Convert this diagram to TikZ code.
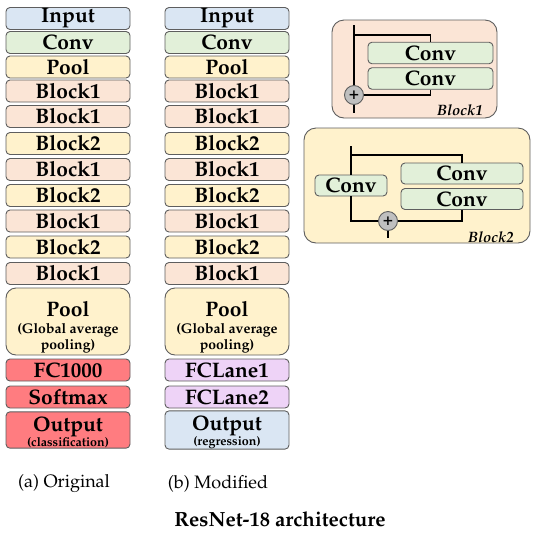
\documentclass[tikz,border=0pt]{standalone}
\usepackage[T1]{fontenc}
\usepackage{mathpazo}
\definecolor{inblue}{HTML}{DAE6F3}
\definecolor{convgreen}{HTML}{E2F0D9}
\definecolor{poolyellow}{HTML}{FFF2CC}
\definecolor{blockpeach}{HTML}{FBE5D6}
\definecolor{fcred}{HTML}{FF7C80}
\definecolor{lanepurple}{HTML}{EED3F7}
\definecolor{edgegray}{HTML}{5E5E5E}
\definecolor{plusgray}{HTML}{BFBFBF}
\newcommand{\subtxt}{\fontsize{14}{15}\selectfont\bfseries}
\newcommand{\tinytxt}{\fontsize{12.5}{12}\selectfont\bfseries}
\begin{document}
\begin{tikzpicture}[
  x=1pt, y=-1pt,
  layer/.style={draw=edgegray, line width=0.9pt, rounded corners=4pt, minimum width=124pt, minimum height=22pt, inner sep=0pt, font=\fontsize{21}{20}\selectfont\bfseries},
  tall/.style={layer, align=center, font=\fontsize{21}{18}\selectfont\bfseries},
  panel/.style={draw=edgegray, line width=0.9pt, rounded corners=12pt},
  wire/.style={black, line width=1.8pt},
  plus/.style={circle, draw=edgegray, fill=plusgray, line width=0.9pt, minimum size=19pt, inner sep=0pt, font=\fontsize{17}{17}\selectfont\bfseries},
  tag/.style={font=\fontsize{15}{15}\selectfont\bfseries\itshape}
]
  \useasboundingbox (0,0) rectangle (538,550);

  % (a) Original
  \node[layer, fill=inblue] (inA) at (68,18.5) {Input};
  \node[layer, fill=convgreen] (convA) at (68,42.5) {Conv};
  \node[layer, fill=poolyellow] (poolA) at (68,67) {Pool};
  \node[layer, fill=blockpeach] (bA1) at (68,91) {Block1};
  \node[layer, fill=blockpeach] (bA2) at (68,116.5) {Block1};
  \node[layer, fill=poolyellow] (bA3) at (68,143.5) {Block2};
  \node[layer, fill=blockpeach] (bA4) at (68,169.5) {Block1};
  \node[layer, fill=poolyellow] (bA5) at (68,195.5) {Block2};
  \node[layer, fill=blockpeach] (bA6) at (68,221) {Block1};
  \node[layer, fill=poolyellow] (bA7) at (68,247) {Block2};
  \node[layer, fill=blockpeach] (bA8) at (68,273.5) {Block1};
  \node[tall, fill=poolyellow, minimum height=67pt, rounded corners=10pt] (gapA) at (68,321.5) {\rule{0pt}{26pt}Pool\\[-1pt]{\subtxt (Global average}\\[-2pt]{\subtxt pooling)}};
  \node[layer, fill=fcred] (fcA) at (68,370) {FC1000};
  \node[layer, fill=fcred] (smA) at (68,397) {Softmax};
  \node[tall, fill=fcred, minimum height=36pt] (outA) at (68,430) {\rule{0pt}{20pt}Output\\[-3pt]{\tinytxt (classification)}};

  % (b) Modified
  \node[layer, fill=inblue] (inB) at (227,18.5) {Input};
  \node[layer, fill=convgreen] (convB) at (227,42.5) {Conv};
  \node[layer, fill=poolyellow] (poolB) at (227,67) {Pool};
  \node[layer, fill=blockpeach] (bB1) at (227,91) {Block1};
  \node[layer, fill=blockpeach] (bB2) at (227,116.5) {Block1};
  \node[layer, fill=poolyellow] (bB3) at (227,143.5) {Block2};
  \node[layer, fill=blockpeach] (bB4) at (227,169.5) {Block1};
  \node[layer, fill=poolyellow] (bB5) at (227,195.5) {Block2};
  \node[layer, fill=blockpeach] (bB6) at (227,221) {Block1};
  \node[layer, fill=poolyellow] (bB7) at (227,247) {Block2};
  \node[layer, fill=blockpeach] (bB8) at (227,273.5) {Block1};
  \node[tall, fill=poolyellow, minimum height=67pt, rounded corners=10pt] (gapB) at (227,321.5) {\rule{0pt}{26pt}Pool\\[-1pt]{\subtxt (Global average}\\[-2pt]{\subtxt pooling)}};
  \node[layer, fill=lanepurple] (fcB1) at (227,370) {FCLane1};
  \node[layer, fill=lanepurple] (fcB2) at (227,397) {FCLane2};
  \node[tall, fill=inblue, minimum height=36pt] (outB) at (227,430) {\rule{0pt}{20pt}Output\\[-3pt]{\tinytxt (regression)}};

  % Captions
  \node[font=\fontsize{18}{18}\selectfont] (capA) at (64,484) {(a) Original};
  \node[font=\fontsize{18}{18}\selectfont] (capB) at (218,484) {(b) Modified};
  \node[font=\fontsize{20.5}{20}\selectfont\bfseries] (title) at (280,519) {ResNet-18 architecture};

  % Block1 detail
  \draw[panel, fill=blockpeach] (332,20) rectangle (497,118);
  \node[layer, fill=convgreen, minimum width=125pt, minimum height=21.5pt] (c1a) at (430.5,53) {Conv};
  \node[layer, fill=convgreen, minimum width=125pt, minimum height=21.5pt] (c1b) at (430.5,78.5) {Conv};
  \node[plus] (p1) at (354,95) {+};
  \coordinate (top1) at (354,25);
  \coordinate (end1) at (354,113);
  \draw[wire] (top1) -- (p1);
  \draw[wire] (354,35) -| (c1a.north);
  \draw[wire] (c1b.south) |- (p1);
  \draw[wire] (p1) -- (end1);
  \node[tag] (t1) at (460,110) {Block1};

  % Block2 detail
  \draw[panel, fill=poolyellow] (304,128) rectangle (530,243);
  \node[layer, fill=convgreen, minimum width=72pt, minimum height=21pt] (c2l) at (351,185.5) {Conv};
  \node[layer, fill=convgreen, minimum width=122pt, minimum height=21pt] (c2a) at (462,173.5) {Conv};
  \node[layer, fill=convgreen, minimum width=122pt, minimum height=21pt] (c2b) at (462,199) {Conv};
  \node[plus] (p2) at (388,221) {+};
  \coordinate (top2) at (351,146);
  \coordinate (end2) at (388,238);
  \draw[wire] (top2) -- (c2l.north);
  \draw[wire] (351,155) -| (c2a.north);
  \draw[wire] (c2l.south) |- (p2);
  \draw[wire] (c2b.south) |- (p2);
  \draw[wire] (p2) -- (end2);
  \node[tag] (t2) at (491,237) {Block2};
\end{tikzpicture}
\end{document}
